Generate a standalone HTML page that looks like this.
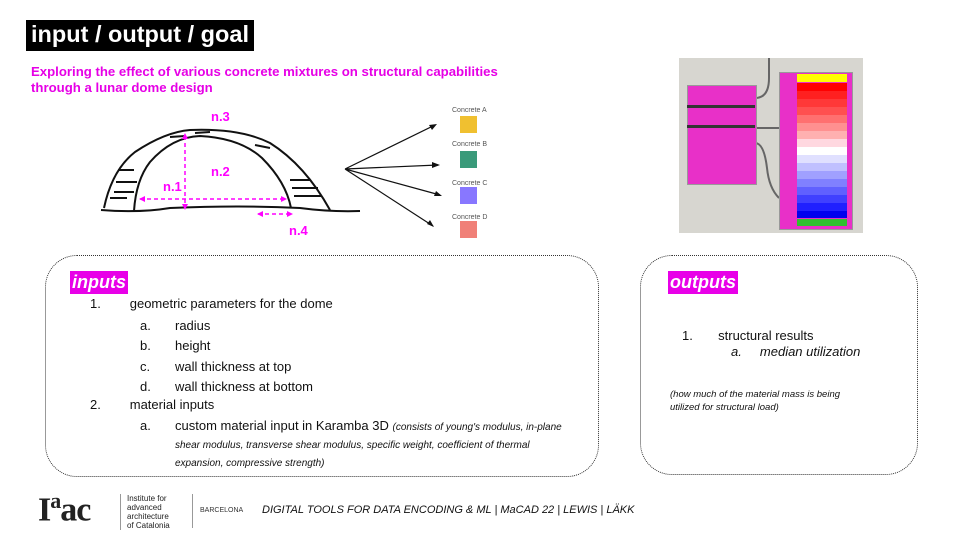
<!DOCTYPE html>
<html><head><meta charset="utf-8"><style>
body{margin:0;width:960px;height:540px;background:#fff;position:relative;overflow:hidden;font-family:"Liberation Sans",sans-serif}
.a{position:absolute;white-space:nowrap}
.box{position:absolute;border:1.3px dotted #333;border-radius:32px}
.tag{position:absolute;background:#e800e8;color:#fff;font-weight:bold;font-style:italic;font-size:18px;padding:1px 2px}
.t{font-size:13px;color:#111}
</style></head><body>
<div class="a" style="left:26px;top:20px;background:#000;color:#fff;font-size:23.5px;font-weight:bold;padding:1px 5px 3px 5px">input / output / goal</div>
<div class="a" style="left:31px;top:64px;color:#e600e6;font-size:13.2px;font-weight:bold;line-height:16px">Exploring the effect of various concrete mixtures on structural capabilities<br>through a lunar dome design</div>

<svg class="a" style="left:0;top:0" width="960" height="250">
<g fill="none" stroke="#111" stroke-width="2">
<path d="M101,210 Q140,213 170,208 Q240,205 300,208 Q330,212 360,211"/>
<path d="M104,208 Q112,170 135,152 Q165,132 190,130 Q240,128 270,143 Q305,165 330,210"/>
<path d="M134,211 Q136,180 150,162 Q172,137 200,136 Q240,138 262,158 Q286,182 291,208"/>
<path d="M118,170 L134,170 M116,182 L137,182 M114,192 L134,192 M110,198 L127,198 M290,180 L310,180 M292,188 L318,188 M294,196 L322,196 M255,145 L270,148 M170,137 L185,136 M195,133 L210,132"/>
</g>
<g stroke="#f0f" stroke-width="1.5" stroke-dasharray="4,3" fill="none">
<path d="M185,136 L185,208"/><path d="M140,199 L286,199"/><path d="M258,214 L292,214"/>
</g>
<g fill="#f0f"><path d="M185,133 l-3,6 h6z"/><path d="M185,210 l-3,-6 h6z"/><path d="M139,199 l6,-3 v6z"/><path d="M287,199 l-6,-3 v6z"/><path d="M257,214 l6,-3 v6z"/><path d="M293,214 l-6,-3 v6z"/></g>
<g font-family="Liberation Sans" font-weight="bold" font-size="13" fill="#f0f">
<text x="211" y="121">n.3</text><text x="211" y="176">n.2</text><text x="163" y="191">n.1</text><text x="289" y="235">n.4</text></g>
<g stroke="#111" stroke-width="1.2"><path d="M345,169 L435,125 M345,169 L438,165 M345,169 L440,195 M345,169 L433,226"/></g>
<g fill="#111"><path d="M437,124 l-8,1 l3,5z"/><path d="M440,165 l-8,-3 l0,6z"/><path d="M442,196 l-6,-5 l-2,5z"/><path d="M434,227 l-4,-7 l-3,4z"/></g>
<g font-family="Liberation Sans" font-size="7" fill="#555">
<text x="452" y="112">Concrete A</text><text x="452" y="146">Concrete B</text><text x="452" y="185">Concrete C</text><text x="452" y="219">Concrete D</text></g>
<rect x="460" y="116" width="17" height="17" fill="#f0c030"/><rect x="460" y="151" width="17" height="17" fill="#3a9a7a"/><rect x="460" y="187" width="17" height="17" fill="#8877ff"/><rect x="460" y="221" width="17" height="17" fill="#f08078"/>
</svg>

<div class="a" style="left:679px;top:58px;width:184px;height:175px;background:#d7d6d0"></div>
<svg class="a" style="left:679px;top:58px" width="184" height="175"><g fill="none" stroke="#666" stroke-width="2"><path d="M76,40 Q90,40 90,20 L90,0"/><path d="M76,70 Q85,70 100,70"/><path d="M76,85 Q85,85 88,110 Q90,130 100,140"/></g></svg>
<div class="a" style="left:687px;top:85px;width:68px;height:98px;background:#e830c8;border:1px solid #999"></div>
<div class="a" style="left:687px;top:105px;width:68px;height:3px;background:#333"></div>
<div class="a" style="left:687px;top:125px;width:68px;height:3px;background:#333"></div>
<div class="a" style="left:779px;top:72px;width:72px;height:156px;background:#e830c8;border:1px solid #999"></div>
<svg class="a" style="left:797px;top:74px" width="50" height="152">
<rect y="0" width="50" height="8" fill="#ffff00"/>
<rect y="9" width="50" height="8" fill="#ff0000"/><rect y="17" width="50" height="8" fill="#ff2020"/><rect y="25" width="50" height="8" fill="#ff3838"/><rect y="33" width="50" height="8" fill="#ff5050"/><rect y="41" width="50" height="8" fill="#ff7070"/><rect y="49" width="50" height="8" fill="#ff9090"/><rect y="57" width="50" height="8" fill="#ffb0b0"/><rect y="65" width="50" height="8" fill="#ffd8e0"/><rect y="73" width="50" height="8" fill="#ffffff"/><rect y="81" width="50" height="8" fill="#e0e0ff"/><rect y="89" width="50" height="8" fill="#c0c0ff"/><rect y="97" width="50" height="8" fill="#a0a0ff"/><rect y="105" width="50" height="8" fill="#8080ff"/><rect y="113" width="50" height="8" fill="#6060ff"/><rect y="121" width="50" height="8" fill="#4040ff"/><rect y="129" width="50" height="8" fill="#2020ff"/><rect y="137" width="50" height="7" fill="#0000ee"/><rect y="145" width="50" height="7" fill="#30c030"/>
</svg>

<div class="box" style="left:45px;top:255px;width:552px;height:220px"></div>
<div class="tag" style="left:70px;top:271px">inputs</div>
<div class="a t" style="left:90px;top:296px">1.&nbsp;&nbsp;&nbsp;&nbsp;&nbsp;&nbsp;&nbsp;&nbsp;geometric parameters for the dome</div>
<div class="a t" style="left:140px;top:316px;line-height:20.3px">a.<br>b.<br>c.<br>d.</div>
<div class="a t" style="left:175px;top:316px;line-height:20.3px">radius<br>height<br>wall thickness at top<br>wall thickness at bottom</div>
<div class="a t" style="left:90px;top:397px">2.&nbsp;&nbsp;&nbsp;&nbsp;&nbsp;&nbsp;&nbsp;&nbsp;material inputs</div>
<div class="a t" style="left:140px;top:418px">a.</div>
<div class="a t" style="left:175px;top:418px;line-height:16px">custom material input in Karamba 3D <i style="font-size:10px">(consists of young's modulus, in-plane</i><br><i style="font-size:10px">shear modulus, transverse shear modulus, specific weight, coefficient of thermal</i><br><i style="font-size:10px">expansion, compressive strength)</i></div>

<div class="box" style="left:640px;top:255px;width:276px;height:218px"></div>
<div class="tag" style="left:668px;top:271px">outputs</div>
<div class="a t" style="left:682px;top:328px">1.&nbsp;&nbsp;&nbsp;&nbsp;&nbsp;&nbsp;&nbsp;structural results</div>
<div class="a t" style="left:731px;top:344px;font-style:italic">a.&nbsp;&nbsp;&nbsp;&nbsp;&nbsp;median utilization</div>
<div class="a" style="left:670px;top:388px;font-size:9.5px;font-style:italic;line-height:13px;color:#111">(how much of the material mass is being<br>utilized for structural load)</div>

<div class="a" style="left:38px;top:488px;font-family:'Liberation Serif',serif;font-weight:bold;font-size:34px;color:#222;letter-spacing:-1px">I<sup style="font-size:22px">a</sup>ac</div>
<div class="a" style="left:120px;top:494px;border-left:1px solid #999;padding-left:6px;font-size:8px;line-height:9px;color:#222">Institute for<br>advanced<br>architecture<br>of Catalonia</div>
<div class="a" style="left:192px;top:494px;height:34px;border-left:1px solid #999"></div>
<div class="a" style="left:200px;top:507px;font-size:7px;color:#333">BARCELONA</div>
<div class="a" style="left:262px;top:504px;font-size:11px;font-style:italic;color:#111">DIGITAL TOOLS FOR DATA ENCODING &amp; ML | MaCAD 22 | LEWIS | LÄKK</div>
</body></html>
